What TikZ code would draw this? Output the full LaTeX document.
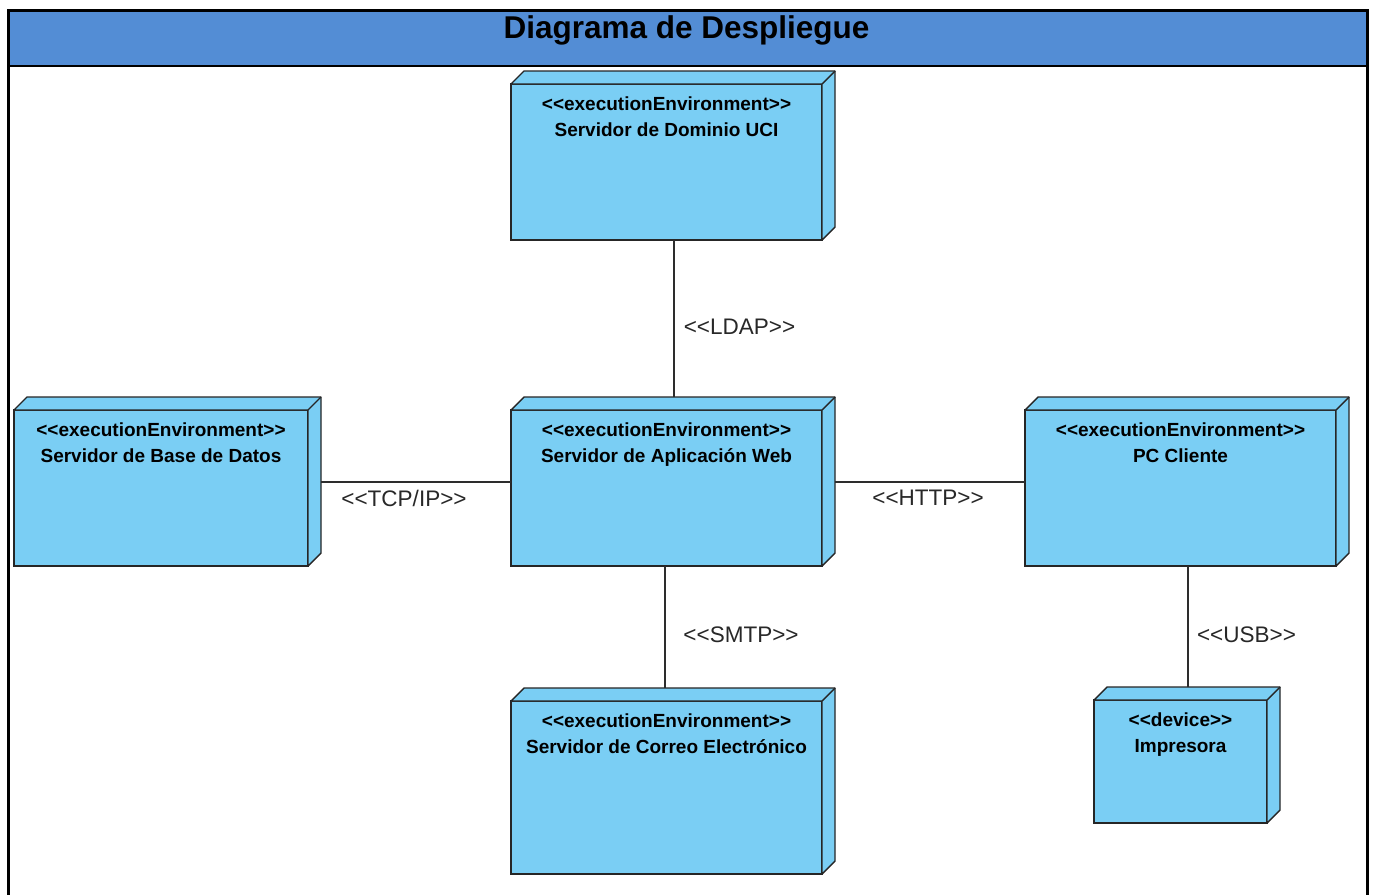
\documentclass[tikz,border=0pt]{standalone}
\usepackage{fontspec}
\setmainfont{Liberation Sans}
\usetikzlibrary{calc}

\definecolor{headerblue}{RGB}{83,141,213}
\definecolor{nodeblue}{RGB}{122,206,244}
\definecolor{edgegray}{RGB}{45,45,45}
\definecolor{labelgray}{RGB}{40,40,40}

% plain angle brackets, kept apart so they are not joined into guillemets
\newcommand{\lst}{<{}<}
\newcommand{\gst}{>{}>}

\tikzset{
  nodebox/.style={draw=black!85, line width=1.4pt, fill=nodeblue,
    inner sep=0pt, outer sep=0pt},
  depthface/.style={draw=black!85, line width=1.4pt, fill=nodeblue,
    line join=round},
  nodetext/.style={inner sep=0pt, align=center, anchor=north,
    font=\fontsize{19}{26}\selectfont\bfseries},
  link/.style={draw=edgegray, line width=1.6pt},
  linklabel/.style={inner sep=0pt, text=labelgray,
    font=\fontsize{22.5}{24}\selectfont},
}

% top and right faces of a 3D node box
\newcommand{\nodedepth}[1]{%
  \filldraw[depthface] (#1.north west) -- ++(13,-13)
    -- ([shift={(13,-13)}]#1.north east)
    -- ([shift={(13,-13)}]#1.south east)
    -- (#1.south east) -- (#1.north east) -- cycle;
  \draw[depthface] (#1.north east) -- ++(13,-13);
}

\begin{document}
\begin{tikzpicture}[x=1pt,y=-1pt]
  \useasboundingbox (0,0) rectangle (1373,894);
  \fill[white] (0,0) rectangle (1373,894);

  % frame and title bar
  \begin{scope}
    \clip (0,0) rectangle (1373,894);
    \fill[headerblue] (8,10) rectangle (1367,66);
    \draw[line width=3pt] (8,10) rectangle (1367,920);
    \draw[line width=2.6pt] (8,66) -- (1367,66);
  \end{scope}
  \node[inner sep=0pt, font=\fontsize{31.5}{32}\selectfont\bfseries] (title)
    at (686.5,30) {Diagrama de Despliegue};

  % nodes (front faces)
  \node[nodebox, minimum width=311pt, minimum height=156pt] (dom)  at (666.5,162) {};
  \node[nodebox, minimum width=294pt, minimum height=156pt] (db)   at (161,488) {};
  \node[nodebox, minimum width=311pt, minimum height=156pt] (app)  at (666.5,488) {};
  \node[nodebox, minimum width=311pt, minimum height=156pt] (pc)   at (1180.5,488) {};
  \node[nodebox, minimum width=311pt, minimum height=173pt] (mail) at (666.5,787.5) {};
  \node[nodebox, minimum width=173pt, minimum height=123pt] (prn)  at (1180.5,761.5) {};

  \nodedepth{dom}
  \nodedepth{db}
  \nodedepth{app}
  \nodedepth{pc}
  \nodedepth{mail}
  \nodedepth{prn}

  % node texts
  \node[nodetext] (dom-t)  at ([yshift=-13pt]dom.north)  {\lst executionEnvironment\gst\\Servidor de Dominio UCI};
  \node[nodetext] (db-t)   at ([yshift=-13pt]db.north)   {\lst executionEnvironment\gst\\Servidor de Base de Datos};
  \node[nodetext] (app-t)  at ([yshift=-13pt]app.north)  {\lst executionEnvironment\gst\\Servidor de Aplicación Web};
  \node[nodetext] (pc-t)   at ([yshift=-13pt]pc.north)   {\lst executionEnvironment\gst\\PC Cliente};
  \node[nodetext] (mail-t) at ([yshift=-13pt]mail.north) {\lst executionEnvironment\gst\\Servidor de Correo Electrónico};
  \node[nodetext] (prn-t)  at ([yshift=-13pt]prn.north)  {\lst device\gst\\Impresora};

  % connection end points on the back faces
  \coordinate (dom-b)  at ([xshift=7.5pt]dom.south);
  \coordinate (app-tp) at ([yshift=13pt]app.north);
  \coordinate (db-r)   at ([shift={(13pt,6pt)}]db.east);
  \coordinate (app-r)  at ([shift={(13pt,6pt)}]app.east);
  \coordinate (app-b)  at ([xshift=-1.5pt]app.south);
  \coordinate (mail-tp) at ([yshift=13pt]mail.north);
  \coordinate (pc-b)   at ([xshift=7.5pt]pc.south);
  \coordinate (prn-tp) at ([yshift=13pt]prn.north);

  % connectors
  \draw[link] (dom-b) -- (dom-b |- app-tp);
  \draw[link] (db-r) -- (db-r -| app.west);
  \draw[link] (app-r) -- (app-r -| pc.west);
  \draw[link] (app-b) -- (app-b |- mail-tp);
  \draw[link] (pc-b) -- (pc-b |- prn-tp);

  % connector labels
  \node[linklabel] (ldap) at (739.5,327) {\lst LDAP\gst};
  \node[linklabel] (tcp)  at (404,498)   {\lst TCP/IP\gst};
  \node[linklabel] (http) at (928,498)   {\lst HTTP\gst};
  \node[linklabel] (smtp) at (741,635)   {\lst SMTP\gst};
  \node[linklabel] (usb)  at (1246.5,635) {\lst USB\gst};
\end{tikzpicture}
\end{document}
